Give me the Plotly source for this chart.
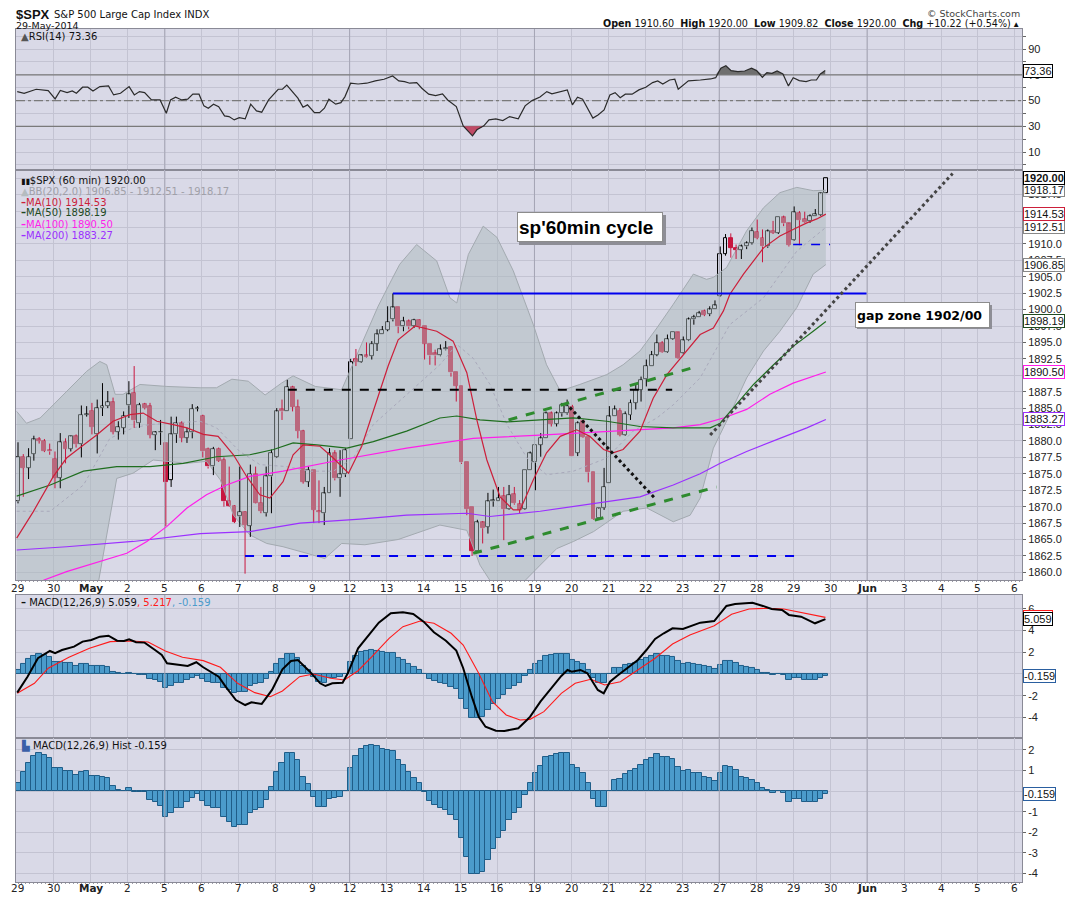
import numpy as np
import plotly.graph_objects as go
from plotly.subplots import make_subplots

# ---------------- data ----------------
# x axis: one slot per trading day, 7 hourly bars per day
day_labels = ["29", "30", "<b>May</b>", "2", "5", "6", "7", "8", "9", "12", "13", "14",
              "15", "16", "19", "20", "21", "22", "23", "27", "28", "29", "30",
              "<b>Jun</b>", "3", "4", "5", "6"]
week_start_days = [4, 9, 14, 19, 23]

# hourly candles, Apr 29 .. May 29 (one row per day)
opens = [
    1870.8, 1877.6, 1875.9, 1878.0, 1880.2, 1880.0, 1878.6,
    1877.3, 1874.4, 1879.8, 1878.8, 1880.7, 1879.5, 1884.0,
    1884.6, 1881.0, 1885.0, 1885.3, 1885.9, 1881.4, 1882.0,
    1885.4, 1887.3, 1882.7, 1885.6, 1885.3, 1880.9, 1881.3,
    1879.7, 1874.1, 1881.0, 1882.7, 1880.5, 1881.3, 1884.9,
    1883.8, 1878.8, 1876.1, 1878.8, 1877.1, 1870.9, 1870.1,
    1868.5, 1869.2, 1867.1, 1875.0, 1870.6, 1869.0, 1874.6,
    1877.5, 1884.8, 1884.5, 1888.2, 1885.2, 1881.5, 1873.8,
    1875.6, 1869.3, 1869.0, 1872.0, 1878.1, 1874.3, 1874.9,
    1880.2, 1892.4, 1892.0, 1893.0, 1892.9, 1894.8, 1896.2,
    1896.9, 1898.5, 1900.3, 1897.4, 1898.2, 1897.5, 1898.4,
    1897.4, 1894.8, 1893.3, 1893.0, 1893.9, 1894.3, 1890.4,
    1888.4, 1876.7, 1869.9, 1863.2, 1867.6, 1866.9, 1870.8,
    1870.9, 1871.6, 1869.6, 1871.9, 1870.4, 1869.6, 1875.6,
    1876.7, 1879.4, 1880.4, 1884.2, 1882.6, 1884.2, 1884.2,
    1885.2, 1878.2, 1883.0, 1880.6, 1875.2, 1868.2, 1869.8,
    1873.5, 1883.7, 1884.6, 1880.9, 1883.95, 1885.8, 1887.8,
    1889.4, 1891.4, 1893.1, 1894.9, 1893.5, 1895.5, 1896.5,
    1893.4, 1895.3, 1898.5, 1898.8, 1899.8, 1899.3, 1900.0,
    1902.1, 1908.5, 1910.9, 1909.4, 1909.1, 1909.6, 1910.1,
    1911.8, 1910.9, 1909.6, 1912.0, 1911.7, 1914.0, 1913.1,
    1910.6, 1914.7, 1913.8, 1913.4, 1914.2, 1914.4, 1917.7,
]
highs = [
    1879.8, 1878.0, 1878.9, 1880.8, 1880.6, 1880.3, 1879.6,
    1878.4, 1881.2, 1880.4, 1880.8, 1881.0, 1885.4, 1885.3,
    1885.8, 1886.3, 1888.8, 1887.6, 1886.6, 1883.0, 1884.5,
    1889.1, 1891.4, 1885.8, 1885.8, 1885.8, 1881.5, 1883.2,
    1879.7, 1883.7, 1883.7, 1883.0, 1882.0, 1885.6, 1885.3,
    1884.0, 1879.0, 1879.1, 1879.0, 1877.5, 1876.1, 1870.2,
    1876.1, 1869.3, 1876.4, 1876.1, 1873.0, 1876.1, 1878.7,
    1885.0, 1886.3, 1889.3, 1888.4, 1886.3, 1881.7, 1876.1,
    1875.6, 1874.0, 1873.0, 1878.9, 1878.6, 1878.6, 1878.9,
    1892.5, 1894.0, 1893.2, 1895.0, 1895.2, 1897.0, 1897.5,
    1900.5, 1902.45, 1900.3, 1898.9, 1898.5, 1898.6, 1898.5,
    1897.4, 1894.8, 1893.9, 1894.7, 1895.2, 1894.4, 1890.4,
    1888.4, 1876.7, 1869.9, 1868.0, 1867.8, 1872.1, 1872.6,
    1873.0, 1873.0, 1873.3, 1873.0, 1871.0, 1875.6, 1878.4,
    1879.3, 1881.2, 1884.5, 1884.5, 1884.5, 1885.8, 1886.3,
    1885.5, 1883.0, 1883.2, 1880.6, 1875.2, 1869.8, 1875.9,
    1885.3, 1885.4, 1885.0, 1884.5, 1886.3, 1888.8, 1889.8,
    1892.4, 1893.7, 1896.2, 1895.2, 1896.2, 1896.5, 1896.6,
    1895.9, 1898.8, 1899.2, 1899.8, 1900.0, 1900.5, 1901.4,
    1909.6, 1911.5, 1911.6, 1909.9, 1909.9, 1910.4, 1912.5,
    1913.7, 1912.2, 1912.2, 1913.5, 1914.0, 1914.3, 1913.2,
    1915.7, 1915.0, 1914.9, 1914.5, 1915.3, 1917.8, 1920.0,
]
lows = [
    1870.5, 1871.5, 1874.2, 1877.0, 1879.6, 1878.3, 1877.9,
    1872.8, 1872.8, 1876.6, 1878.4, 1879.0, 1877.5, 1883.7,
    1881.0, 1878.1, 1883.8, 1885.0, 1881.0, 1880.2, 1881.0,
    1883.5, 1882.0, 1882.0, 1884.8, 1880.4, 1878.6, 1879.4,
    1867.0, 1873.0, 1879.7, 1879.8, 1879.7, 1880.4, 1884.5,
    1877.5, 1875.8, 1874.8, 1876.8, 1870.0, 1870.0, 1867.5,
    1866.9, 1859.8, 1865.4, 1870.5, 1869.0, 1868.5, 1869.0,
    1877.4, 1883.2, 1884.5, 1884.5, 1880.4, 1873.5, 1873.0,
    1867.5, 1867.5, 1867.2, 1872.0, 1874.0, 1871.5, 1874.5,
    1880.2, 1891.4, 1891.9, 1892.7, 1892.4, 1893.7, 1896.2,
    1896.7, 1898.2, 1896.4, 1896.7, 1897.0, 1897.2, 1897.0,
    1892.4, 1891.6, 1891.5, 1892.9, 1893.8, 1889.8, 1886.0,
    1876.5, 1868.7, 1862.5, 1863.0, 1864.4, 1865.9, 1870.0,
    1870.9, 1864.9, 1869.5, 1870.3, 1869.0, 1869.5, 1875.6,
    1872.5, 1877.6, 1880.4, 1882.2, 1882.2, 1883.7, 1884.0,
    1877.7, 1877.7, 1880.5, 1873.7, 1868.0, 1868.1, 1869.5,
    1873.5, 1883.7, 1880.7, 1880.8, 1883.2, 1884.8, 1886.0,
    1888.3, 1891.4, 1892.9, 1893.4, 1893.4, 1895.4, 1892.5,
    1893.3, 1895.2, 1897.7, 1898.8, 1899.0, 1899.0, 1900.0,
    1902.0, 1908.2, 1907.9, 1907.7, 1907.7, 1909.2, 1909.9,
    1910.7, 1907.2, 1909.4, 1911.5, 1911.5, 1912.7, 1909.6,
    1910.5, 1909.8, 1913.2, 1913.2, 1914.2, 1914.3, 1917.7,
]
closes = [
    1877.6, 1875.9, 1877.6, 1880.2, 1880.0, 1878.5, 1878.4,
    1874.4, 1879.8, 1878.8, 1880.7, 1879.5, 1884.0, 1884.1,
    1882.1, 1885.0, 1885.3, 1885.9, 1881.4, 1882.1, 1883.8,
    1887.1, 1883.1, 1885.5, 1885.0, 1880.9, 1881.3, 1881.4,
    1873.7, 1881.0, 1882.7, 1880.5, 1881.3, 1884.9, 1885.0,
    1878.4, 1876.1, 1878.8, 1877.0, 1870.8, 1870.1, 1867.7,
    1869.2, 1867.2, 1875.0, 1870.6, 1869.3, 1874.6, 1878.2,
    1884.5, 1884.5, 1888.2, 1885.2, 1881.5, 1873.8, 1875.6,
    1869.5, 1869.2, 1872.0, 1878.1, 1874.3, 1874.9, 1878.6,
    1892.0, 1892.0, 1893.0, 1892.8, 1894.8, 1896.2, 1896.9,
    1898.1, 1900.3, 1897.4, 1898.2, 1897.4, 1898.4, 1897.4,
    1894.8, 1893.0, 1893.0, 1893.9, 1894.2, 1890.4, 1888.4,
    1876.7, 1869.6, 1863.3, 1867.6, 1866.7, 1870.8, 1871.0,
    1871.3, 1869.6, 1871.8, 1870.5, 1869.5, 1875.6, 1878.1,
    1879.3, 1880.4, 1884.2, 1882.6, 1884.2, 1885.4, 1885.3,
    1877.7, 1882.7, 1880.6, 1875.2, 1868.1, 1869.7, 1873.0,
    1883.7, 1884.8, 1880.9, 1884.1, 1885.8, 1887.8, 1889.3,
    1891.4, 1893.1, 1894.9, 1893.5, 1895.5, 1896.5, 1892.6,
    1895.3, 1898.5, 1898.8, 1899.4, 1899.2, 1900.0, 1900.6,
    1908.5, 1910.9, 1909.4, 1909.1, 1909.6, 1910.1, 1912.0,
    1910.9, 1909.6, 1911.9, 1911.7, 1914.0, 1913.1, 1909.8,
    1914.8, 1913.6, 1913.3, 1914.2, 1914.5, 1917.7, 1920.0,
]

# MACD histogram, one value per bar
macd_hist = [
    0.38, 0.91, 1.35, 1.68, 1.84, 1.76, 1.59,
    1.11, 1.11, 0.98, 0.98, 0.78, 0.91, 0.95,
    0.75, 0.75, 0.70, 0.65, 0.22, 0.05, 0.0,
    0.13, -0.03, -0.06, -0.06, -0.43, -0.51, -0.72,
    -1.28, -1.08, -0.84, -0.80, -0.51, -0.35, -0.14,
    -0.47, -0.72, -0.80, -0.84, -1.28, -1.49, -1.73,
    -1.65, -1.65, -1.08, -0.92, -0.84, -0.43, 0.18,
    0.90, 1.35, 1.84, 1.84, 1.48, 0.70, 0.33,
    -0.30, -0.76, -0.79, -0.40, -0.35, -0.27, 0.02,
    1.11, 1.68, 2.03, 2.16, 2.24, 2.16, 2.03,
    1.97, 1.92, 1.51, 1.27, 0.90, 0.65, 0.38,
    -0.03, -0.47, -0.68, -0.84, -0.92, -1.16, -1.40,
    -2.30, -3.19, -4.03, -4.03, -3.92, -3.35, -2.79,
    -2.30, -1.93, -1.40, -1.08, -0.84, -0.19, 0.41,
    0.89, 1.19, 1.64, 1.72, 1.80, 1.84, 1.84,
    1.27, 1.11, 0.89, 0.38, -0.40, -0.79, -0.79,
    0.0, 0.54, 0.57, 0.83, 0.95, 1.06, 1.27,
    1.51, 1.62, 1.80, 1.64, 1.64, 1.54, 1.16,
    0.95, 1.00, 0.89, 0.86, 0.70, 0.62, 0.49,
    0.86, 1.22, 1.16, 1.00, 0.70, 0.62, 0.51,
    0.41, 0.13, 0.05, -0.11, 0.0, -0.11, -0.51,
    -0.40, -0.40, -0.55, -0.55, -0.55, -0.40, -0.16,
]

# indicator lines, sampled (x in bar units)
ma10_x = [-0.25, 2.9, 6.7, 9.2, 12.4, 14.9, 18.0, 21.2, 23.7, 26.3, 29.4, 32.0, 35.1, 37.9,
          40.8, 43.3, 45.8, 47.7, 50.2, 52.1, 54.0, 57.2, 59.7, 62.6, 65.1, 67.6, 70.1, 72.0,
          75.2, 79.3, 82.4, 85.0, 86.9, 88.8, 91.3, 93.8, 95.1, 97.6, 100.1, 102.7, 105.8,
          108.3, 110.9, 112.7, 114.6, 117.8, 120.3, 122.9, 126.6, 129.2, 131.7, 133.6, 134.8,
          137.4, 141.2, 144.3, 146.8, 149.4, 151.3, 153.0]
ma10_y = [1865.2, 1869.25, 1874.6, 1877.4, 1879.4, 1880.9, 1883.0, 1884.0, 1884.25, 1883.0,
          1882.5, 1882.0, 1881.0, 1880.7, 1877.9, 1874.6, 1871.8, 1871.3, 1873.8, 1877.9,
          1879.4, 1879.2, 1877.4, 1875.1, 1879.2, 1885.3, 1891.4, 1895.4, 1897.5, 1896.7,
          1895.2, 1890.4, 1883.2, 1877.1, 1871.5, 1869.5, 1869.5, 1874.1, 1878.2, 1880.7,
          1881.7, 1880.7, 1878.7, 1878.2, 1878.7, 1881.5, 1886.5, 1890.1, 1893.7, 1896.2,
          1897.2, 1899.8, 1902.3, 1905.4, 1909.4, 1911.2, 1912.2, 1913.2, 1913.8, 1914.53]

ma50_x = [-0.25, 6.1, 12.4, 18.7, 25.0, 31.3, 37.6, 43.9, 48.4, 52.1, 56.6, 62.3, 67.3, 73.6,
          79.9, 83.1, 87.5, 92.6, 98.9, 105.2, 111.5, 117.8, 124.1, 131.1, 133.0, 135.5,
          139.3, 143.1, 146.8, 150.6, 153.0]
ma50_y = [1871.6, 1873.3, 1875.4, 1876.1, 1876.1, 1876.6, 1877.6, 1877.9, 1878.7, 1879.7,
          1879.4, 1878.9, 1879.9, 1881.5, 1883.5, 1883.8, 1883.2, 1882.9, 1883.2, 1883.5,
          1883.0, 1882.2, 1882.0, 1882.0, 1882.7, 1885.0, 1888.6, 1891.6, 1894.4, 1896.7,
          1898.19]

ma100_x = [-0.25, 4.8, 9.2, 15.5, 20.6, 24.4, 28.2, 32.0, 35.7, 39.5, 43.9, 50.2, 56.6, 61.0,
           73.6, 86.2, 98.9, 111.5, 124.1, 129.2, 133.6, 138.0, 142.4, 146.8, 150.6, 153.0]
ma100_y = [1857.5, 1858.8, 1860.1, 1861.6, 1862.9, 1864.7, 1867.0, 1869.8, 1871.8, 1873.3,
           1874.6, 1875.4, 1876.4, 1877.1, 1878.9, 1880.4, 1880.9, 1881.5, 1882.0, 1882.5,
           1883.5, 1884.8, 1887.1, 1888.8, 1889.8, 1890.5]

ma200_x = [-0.25, 9.2, 21.8, 34.5, 43.9, 53.4, 64.8, 73.6, 85.0, 89.4, 98.9, 111.5, 117.8,
           124.1, 129.2, 133.0, 138.0, 144.3, 149.4, 153.0]
ma200_y = [1863.4, 1863.9, 1864.7, 1865.9, 1866.2, 1867.5, 1868.1, 1868.7, 1869.0, 1868.5,
           1869.3, 1870.8, 1871.5, 1873.3, 1875.0, 1876.6, 1878.4, 1880.4, 1882.0, 1883.27]

bb_up_x = [-0.25, 1.6, 4.2, 9.2, 13.0, 15.5, 16.8, 18.4, 19.9, 23.1, 28.2, 34.5, 37.6, 40.5,
           43.6, 46.8, 49.9, 52.1, 56.3, 61.3, 63.8, 65.7, 68.2, 70.8, 72.3, 75.5, 79.3, 81.8,
           83.1, 85.3, 88.1, 90.7, 93.8, 97.6, 100.1, 102.7, 106.4, 111.5, 114.6, 117.8,
           121.0, 124.1, 127.9, 130.4, 131.7, 134.2, 138.0, 141.2, 144.3, 147.5, 150.6, 153.0]
bb_up_y = [1884.5, 1882.7, 1883.5, 1887.6, 1890.6, 1892.1, 1891.6, 1887.1, 1887.1, 1888.6,
           1888.3, 1888.1, 1888.1, 1889.4, 1889.1, 1887.0, 1888.8, 1889.9, 1888.3, 1887.8,
           1892.4, 1895.9, 1900.5, 1904.6, 1906.9, 1909.9, 1907.4, 1901.8, 1901.0, 1908.4,
           1912.7, 1911.0, 1905.9, 1897.7, 1891.6, 1887.6, 1888.6, 1890.1, 1891.6, 1893.7,
           1897.2, 1900.8, 1905.4, 1904.6, 1904.9, 1906.4, 1912.0, 1915.5, 1917.8, 1918.6,
           1918.1, 1918.17]

bb_lo_x = [-0.25, 14.9, 18.7, 21.8, 25.6, 28.2, 32.0, 35.7, 38.3, 40.8, 43.9, 47.1, 50.2,
           54.7, 58.1, 61.3, 65.7, 72.0, 79.9, 85.0, 87.5, 90.0, 95.1, 98.9, 102.0, 105.2,
           109.0, 114.6, 119.1, 124.1, 127.3, 129.2, 131.7, 134.8, 138.0, 141.2, 144.3, 147.5,
           150.6, 153.0]
bb_lo_y = [1855.0, 1857.0, 1874.3, 1875.1, 1877.1, 1876.9, 1876.6, 1876.9, 1874.1, 1868.7,
           1865.7, 1864.4, 1863.9, 1862.9, 1862.1, 1864.4, 1864.2, 1865.0, 1867.2, 1866.4,
           1861.1, 1858.0, 1858.0, 1861.1, 1863.6, 1864.7, 1866.2, 1869.3, 1869.8, 1867.7,
           1868.7, 1871.3, 1878.9, 1884.0, 1889.6, 1893.7, 1896.7, 1900.3, 1905.4, 1906.85]

bb_mid_x = [-0.25, 6.1, 12.4, 17.4, 21.8, 25.0, 34.5, 37.6, 42.0, 45.8, 50.9, 55.3, 59.7,
            63.5, 67.3, 73.6, 79.9, 83.1, 86.2, 89.4, 92.6, 96.4, 100.1, 105.2, 111.5, 116.5,
            121.0, 124.1, 129.2, 134.8, 141.2, 147.5, 153.0]
bb_mid_y = [1869.3, 1869.3, 1873.3, 1880.4, 1882.0, 1882.5, 1883.0, 1882.0, 1878.4, 1876.4,
            1876.1, 1875.4, 1875.4, 1877.4, 1882.5, 1887.1, 1891.6, 1894.7, 1892.6, 1888.6,
            1882.5, 1877.4, 1874.85, 1875.4, 1877.4, 1881.5, 1883.5, 1885.5, 1889.6, 1897.7,
            1901.8, 1908.9, 1912.51]

rsi_x = [-0.15, 1.16, 3.45, 5.72, 7.03, 8.01, 9.3, 10.28, 11.06, 12.23, 13.22, 14.2, 15.51,
         17.14, 18.11, 19.41, 21.04, 22.03, 23.01, 23.98, 25.28, 26.91, 28.09, 28.88, 29.85,
         31.02, 32.14, 33.11, 34.28, 35.21, 36.04, 37.03, 38.01, 39.11, 39.96, 40.95, 41.91,
         43.03, 44.07, 45.17, 46.16, 47.46, 49.28, 50.08, 50.91, 53.01, 53.98, 54.83, 56.14,
         57.12, 58.03, 58.88, 60.17, 61.16, 61.93, 62.99, 64.41, 66.04, 67.67, 69.32, 70.95,
         72.12, 73.22, 74.2, 75.51, 76.48, 77.78, 79.09, 80.4, 81.38, 83.01, 84.32, 86.08,
         86.91, 88.22, 89.2, 90.51, 91.82, 93.11, 94.75, 96.04, 97.35, 98.86, 100.15, 101.12,
         102.75, 104.03, 105.0, 105.97, 106.93, 108.88, 109.85, 111.0, 112.1, 113.09, 114.05,
         115.02, 116.31, 117.59, 118.9, 120.19, 121.16, 122.12, 123.41, 124.39, 125.04,
         126.97, 129.24, 131.17, 132.14, 133.11, 134.07, 135.06, 136.34, 137.63, 138.92,
         139.89, 140.98, 141.84, 142.8, 143.77, 144.87, 145.91, 146.82, 147.97, 149.26,
         150.23, 151.21, 151.97, 152.88]
rsi_y = [57.0, 55.7, 58.8, 57.8, 51.3, 57.8, 56.2, 57.5, 55.7, 60.4, 60.4, 57.5, 60.9, 61.4,
         54.4, 55.7, 60.9, 54.4, 57.0, 56.2, 50.5, 50.5, 40.2, 50.5, 52.6, 50.5, 51.1, 55.0,
         55.0, 45.9, 44.1, 47.2, 45.3, 38.1, 37.6, 35.0, 36.8, 35.8, 47.2, 42.0, 41.0, 50.5,
         58.8, 58.8, 62.1, 51.9, 44.9, 46.7, 40.7, 40.7, 44.1, 51.1, 47.2, 48.4, 53.1, 63.5,
         62.9, 63.5, 65.3, 66.6, 69.1, 65.3, 64.7, 63.5, 64.0, 59.6, 55.0, 53.9, 55.2, 50.5,
         45.3, 30.4, 22.6, 27.3, 30.4, 35.0, 35.8, 34.5, 37.6, 35.8, 45.9, 50.0, 52.8, 57.0,
         55.2, 57.0, 58.3, 46.7, 52.6, 51.1, 36.4, 38.9, 42.8, 54.4, 56.2, 52.3, 55.0, 55.0,
         58.3, 60.4, 64.0, 65.3, 62.9, 66.0, 66.6, 58.8, 65.3, 66.0, 66.8, 67.8, 75.1, 77.1,
         73.3, 72.5, 73.0, 75.1, 73.3, 68.1, 71.7, 71.2, 73.0, 70.7, 61.4, 67.8, 65.5, 64.7,
         66.0, 66.0, 70.7, 73.36]

macd_x = [-0.15, 1.8, 3.77, 6.04, 7.03, 8.33, 10.61, 12.23, 13.88, 15.51, 17.14, 18.77, 20.08,
          21.04, 22.35, 23.98, 25.95, 27.23, 28.22, 29.85, 32.14, 33.77, 35.08, 38.01, 39.32,
          41.27, 43.03, 44.2, 46.16, 48.11, 50.08, 51.7, 53.01, 55.28, 57.23, 58.22, 59.53,
          61.48, 62.46, 64.41, 66.04, 68.33, 70.61, 72.9, 74.85, 76.82, 78.77, 81.04, 83.01,
          84.32, 85.95, 87.25, 88.54, 90.51, 92.14, 94.75, 96.38, 97.0, 98.94, 100.93, 102.9,
          104.07, 104.87, 106.52, 107.84, 108.83, 109.81, 110.93, 112.12, 113.43, 115.4,
          117.39, 119.02, 120.66, 122.31, 123.96, 125.93, 129.22, 131.86, 132.84, 134.17,
          135.81, 139.11, 141.08, 142.73, 144.7, 146.02, 148.31, 150.95, 152.92]
macd_y = [-1.72, -0.25, 1.45, 2.12, 1.91, 2.21, 2.52, 2.98, 3.13, 3.44, 3.53, 3.07, 3.04, 3.2,
          2.92, 2.89, 2.21, 1.75, 0.98, 0.89, 0.74, 1.08, 0.62, -0.25, -1.17, -2.4, -2.86,
          -2.61, -2.76, -1.47, 0.43, 1.2, 1.29, 0.21, -0.86, -1.11, -0.86, -0.8, 0.06, 2.37,
          3.38, 4.73, 5.59, 5.69, 5.53, 4.82, 3.84, 3.07, 2.15, 0.53, -2.09, -3.94, -4.86,
          -5.23, -5.25, -5.0, -4.24, -3.93, -2.55, -1.32, -0.18, 0.37, 0.21, 0.37, 0.06, -0.71,
          -1.47, -1.78, -0.71, -0.18, 0.53, 1.29, 2.21, 3.23, 3.75, 4.21, 4.15, 4.73, 4.88,
          5.44, 6.27, 6.45, 6.57, 6.27, 5.99, 5.9, 5.44, 5.28, 4.67, 5.059]

signal_x = [-0.15, 3.11, 5.72, 9.64, 13.54, 17.46, 21.38, 24.64, 27.9, 31.16, 35.08, 38.33,
            41.59, 44.85, 47.78, 50.08, 53.33, 55.95, 59.2, 61.82, 64.41, 67.03, 70.28, 72.9,
            76.16, 78.77, 82.03, 84.32, 87.25, 89.85, 92.46, 95.08, 96.97, 99.6, 102.9, 105.53,
            108.48, 111.12, 114.09, 117.39, 120.66, 123.96, 127.25, 131.86, 135.15, 138.45,
            141.74, 145.02, 148.31, 152.92]
signal_y = [-1.78, -0.86, 0.53, 1.54, 2.37, 2.98, 3.04, 2.95, 2.12, 1.54, 1.23, 0.62, -0.86,
            -1.72, -2.09, -1.57, -0.25, 0.0, -0.4, -0.55, 0.3, 1.59, 3.29, 4.36, 4.88, 4.67,
            3.75, 2.67, 0.06, -2.55, -3.78, -4.24, -4.18, -3.47, -1.78, -0.86, -0.49, -1.01,
            -0.71, 0.37, 1.45, 2.76, 3.59, 4.45, 5.5, 5.99, 6.05, 5.99, 5.69, 5.217]

# hand-drawn lines on the price panel: (x0, y0, x1, y1, color, width, dash)
drawn_lines = [
    (71.0, 1902.45, 160.7, 1902.45, "#0000ee", 2, "solid"),
    (51.1, 1887.8, 123.9, 1887.8, "#000000", 2, "dash"),
    (43.0, 1862.5, 148.1, 1862.5, "#0000ee", 2, "dash"),
    (92.9, 1883.2, 127.6, 1891.1, "#2e8b2e", 3, "dash"),
    (86.2, 1862.9, 132.3, 1873.0, "#2e8b2e", 3, "dash"),
    (104.5, 1885.1, 120.6, 1871.3, "#111111", 3, "dot"),
    (131.1, 1880.9, 177.0, 1920.7, "#444444", 3, "dot"),
    (146.8, 1909.9, 153.8, 1909.9, "#0000ee", 1.5, "dash"),
]

# ---------------- figure ----------------
# the page puts the plot 8px in from the top-left corner, so the figure is 8px smaller
W, H = 1067, 889
L, R, T, B = 16, 1022, 29, 882      # plot area in page pixels
OFF = 8


def px_x(px):
    return (px - L) / (R - L)


def px_y(py):
    return (B - py) / (B - T)


GRID = "#c3c3d2"
BG = "#d9d9e7"
FONT = "DejaVu Sans"
XR = [-0.38, 190.15]
UP_COL, DN_COL = "#000000", "#c8163f"

n = len(closes)
bar_x = np.arange(n)
day_x = [7 * d - 0.19 for d in range(len(day_labels))]
o, h, lo, c = map(np.array, (opens, highs, lows, closes))
up = c >= o

fig = make_subplots(rows=4, cols=1, shared_xaxes=True, vertical_spacing=0)
yranges = {1: [-3.7, 105.6], 2: [1858.83, 1921.22], 3: [-5.9, 7.28], 4: [-4.41, 2.57]}

# darker week lines, drawn first so they sit under every other mark
for row, (y0, y1) in yranges.items():
    wx, wy = [], []
    for d in week_start_days:
        wx += [day_x[d], day_x[d], None]
        wy += [y0, y1, None]
    fig.add_trace(go.Scatter(x=wx, y=wy, mode="lines", line=dict(color="#a4a4b4", width=1),
                             hoverinfo="skip"), row=row, col=1)

# RSI panel
for lvl, dash in [(70, "solid"), (30, "solid"), (50, "dashdot")]:
    fig.add_trace(go.Scatter(x=XR, y=[lvl, lvl], mode="lines",
                             line=dict(color="#7a7a7a", width=1.2, dash=dash),
                             hoverinfo="skip"), row=1, col=1)
rsi = np.array(rsi_y)
fig.add_trace(go.Scatter(x=rsi_x, y=[70] * len(rsi_x), mode="lines", line=dict(width=0),
                         hoverinfo="skip"), row=1, col=1)
fig.add_trace(go.Scatter(x=rsi_x, y=np.maximum(rsi, 70), mode="lines", line=dict(width=0),
                         fill="tonexty", fillcolor="#6f6f6f", hoverinfo="skip"), row=1, col=1)
fig.add_trace(go.Scatter(x=rsi_x, y=[30] * len(rsi_x), mode="lines", line=dict(width=0),
                         hoverinfo="skip"), row=1, col=1)
fig.add_trace(go.Scatter(x=rsi_x, y=np.minimum(rsi, 30), mode="lines", line=dict(width=0),
                         fill="tonexty", fillcolor="#c04a66", hoverinfo="skip"), row=1, col=1)
fig.add_trace(go.Scatter(x=rsi_x, y=rsi_y, mode="lines", line=dict(color="#2b2b2b", width=1.2)),
              row=1, col=1)

# price panel: Bollinger band
fig.add_trace(go.Scatter(x=bb_up_x + bb_lo_x[::-1], y=bb_up_y + bb_lo_y[::-1], mode="lines",
                         fill="toself", fillcolor="rgba(172,186,188,0.50)", line=dict(width=0),
                         hoverinfo="skip"), row=2, col=1)
for bx, by in [(bb_up_x, bb_up_y), (bb_lo_x, bb_lo_y)]:
    fig.add_trace(go.Scatter(x=bx, y=by, mode="lines", line=dict(color="#a3aab0", width=1)),
                  row=2, col=1)
fig.add_trace(go.Scatter(x=bb_mid_x, y=bb_mid_y, mode="lines",
                         line=dict(color="#a9a9bb", width=1, dash="dot")), row=2, col=1)

# candles: wicks as line segments, bodies as floating bars
body_top = np.maximum(o, c)
body_bot = np.minimum(o, c)
for mask, col in [(up, UP_COL), (~up, DN_COL)]:
    wx, wy = [], []
    for i in np.where(mask)[0]:
        wx += [i, i, None, i, i, None]
        wy += [h[i], body_top[i], None, body_bot[i], lo[i], None]
    fig.add_trace(go.Scatter(x=wx, y=wy, mode="lines", line=dict(color=col, width=1),
                             hoverinfo="skip"), row=2, col=1)
    fig.add_trace(go.Bar(x=bar_x[mask], y=np.maximum(body_top - body_bot, 0.08)[mask],
                         base=body_bot[mask], width=0.74,
                         marker=dict(color="rgba(0,0,0,0)" if col == UP_COL else col,
                                     line=dict(color=col, width=1))), row=2, col=1)

for mx, my, col in [(ma200_x, ma200_y, "#9b30ff"), (ma100_x, ma100_y, "#ff1eea"),
                    (ma50_x, ma50_y, "#1f6e1f"), (ma10_x, ma10_y, "#cc1f3a")]:
    fig.add_trace(go.Scatter(x=mx, y=my, mode="lines", line=dict(color=col, width=1.2)),
                  row=2, col=1)

# MACD panels
for row in (3, 4):
    fig.add_trace(go.Bar(x=bar_x, y=macd_hist, width=1.0, marker=dict(
        color="#4b9bcb", line=dict(color="#1f5d88", width=1))), row=row, col=1)
fig.add_trace(go.Scatter(x=signal_x, y=signal_y, mode="lines",
                         line=dict(color="#ff1a1a", width=1.1)), row=3, col=1)
fig.add_trace(go.Scatter(x=macd_x, y=macd_y, mode="lines",
                         line=dict(color="#000000", width=2)), row=3, col=1)

# axes
xcommon = dict(range=XR, tickmode="array", tickvals=day_x, showticklabels=False,
               showgrid=True, gridcolor=GRID, gridwidth=1, zeroline=False, showline=True,
               mirror=True, linecolor="#8a8a96", ticks="")
for i in range(1, 5):
    fig.update_layout({f"xaxis{i if i > 1 else ''}": xcommon})
dotted = dict(minor=dict(tick0=0, dtick=0.75, ticks="outside", ticklen=1, tickwidth=1,
                         tickcolor="#9a9aa6", showgrid=False))
fig.update_layout(xaxis2=dotted, xaxis4=dotted)

ycommon = dict(side="right", showgrid=True, gridcolor=GRID, zeroline=False, showline=True,
               mirror=True, linecolor="#8a8a96", ticks="outside", ticklen=3, tickcolor="#666",
               tickfont=dict(family="Liberation Sans", size=11, color="#222"))
price_ticks = [1860 + 2.5 * k for k in range(25)]
fig.update_layout(
    yaxis=dict(ycommon, domain=[0.835, 1.0], range=yranges[1], tickmode="array",
               tickvals=list(range(0, 101, 10)),
               ticktext=["" if v % 20 == 0 else str(v) for v in range(0, 101, 10)]),
    yaxis2=dict(ycommon, domain=[0.354, 0.8345], range=yranges[2], tickmode="array",
                tickvals=price_ticks, ticktext=[f"{v:.1f}" for v in price_ticks]),
    yaxis3=dict(ycommon, domain=[0.1688, 0.3365], range=yranges[3], tickmode="array",
                tickvals=[-4, -2, 0, 2, 4, 6], ticktext=["-4", "-2", "0", "2", "4", "6"]),
    yaxis4=dict(ycommon, domain=[0.0, 0.1688], range=yranges[4], tickmode="array",
                tickvals=[-4, -3, -2, -1, 0, 1, 2], ticktext=["-4", "-3", "-2", "-1", "0", "1", "2"]),
)

shapes = [
    dict(type="line", xref="x2", yref="y2", x0=x0, y0=y0, x1=x1, y1=y1,
         line=dict(color=col, width=wd, dash=dash))
    for x0, y0, x1, y1, col, wd, dash in drawn_lines
]
# drop shadows behind the two note boxes
for bx0, by0, bx1, by1 in [(519, 215, 666, 245), (857, 305, 992, 329)]:
    shapes.append(dict(type="rect", xref="paper", yref="paper", x0=px_x(bx0), x1=px_x(bx1),
                       y0=px_y(by1), y1=px_y(by0), line=dict(width=0), fillcolor="#8e8e96"))
fig.update_layout(shapes=shapes)

ann = []


def text(px, py, s, size=10, color="#111", xanchor="left", family=FONT):
    ann.append(dict(xref="paper", yref="paper", x=px_x(px), y=px_y(py), text=s,
                    showarrow=False, xanchor=xanchor, yanchor="middle",
                    font=dict(family=family, size=size, color=color)))


# day labels under the price panel and under the histogram
for dx, lab in zip(day_x, day_labels):
    for py in (588, 888):
        ann.append(dict(xref="x", yref="paper", x=dx, y=px_y(py), text=lab, showarrow=False,
                        xanchor="center", yanchor="middle",
                        font=dict(family=FONT, size=10.5, color="#222")))

# header
text(14, 14, "<b>$SPX</b>", size=13, family="Liberation Sans")
text(52, 14, "S&P 500 Large Cap Index INDX", size=10)
text(14, 25.5, "29-May-2014", size=9.5)
text(1022, 13, "© StockCharts.com", size=9.5, color="#444", xanchor="right")
text(1021, 24, "<b>Open</b> 1910.60  <b>High</b> 1920.00  <b>Low</b> 1909.82  "
     "<b>Close</b> 1920.00  <b>Chg</b> +10.22 (+0.54%) ▴", size=9.6, xanchor="right")

# panel legends
text(19, 37, "<span style='color:#555'>▲</span>RSI(14) 73.36", size=10)
text(19, 180, "<span style='font-size:8px'>▮▮</span>$SPX (60 min) 1920.00", size=10)
text(19, 191, "<span style='color:#b5bcc0'>▲</span>BB(20,2.0) 1906.85 - 1912.51 - 1918.17",
     size=10, color="#a0a0a8")
text(19, 202, "<b>–</b>MA(10) 1914.53", size=10, color="#cc1f3a")
text(19, 213, "<b>–</b>MA(50) 1898.19", size=10, color="#1f4a1f")
text(19, 224, "<b>–</b>MA(100) 1890.50", size=10, color="#ff1eea")
text(19, 235, "<b>–</b>MA(200) 1883.27", size=10, color="#9b30ff")
text(19, 602, "<b>–</b> MACD(12,26,9) 5.059<span style='color:#ff1a1a'>, 5.217</span>"
     "<span style='color:#4b9bcb'>, -0.159</span>", size=10)
text(19, 745, "<span style='color:#3b5fa8'>▙</span> MACD(12,26,9) Hist -0.159", size=10)


def tag(yref, val, s, border, bold=False):
    ann.append(dict(xref="paper", yref=yref, x=1.0, y=val, xanchor="left", yanchor="middle",
                    xshift=1, text=f"<b>{s}</b>" if bold else s, showarrow=False,
                    bgcolor="white", bordercolor=border, borderwidth=1, borderpad=0,
                    font=dict(family="Liberation Sans", size=11, color="#111")))


tag("y", 73.36, "73.36", "#000")
for val, s, border, bold in [(1883.27, "1883.27", "#9b30ff", False),
                             (1890.50, "1890.50", "#ff1eea", False),
                             (1898.19, "1898.19", "#1f4a1f", False),
                             (1906.85, "1906.85", "#888", False),
                             (1912.51, "1912.51", "#888", False),
                             (1914.53, "1914.53", "#cc1f3a", False),
                             (1918.17, "1918.17", "#888", False),
                             (1920.00, "1920.00", "#000", True)]:
    tag("y2", val, s, border, bold)
tag("y3", 5.217, "5.217", "#ff1a1a")
tag("y3", 5.059, "5.059", "#000")
tag("y3", -0.159, "-0.159", "#2a5fa0")
tag("y4", -0.159, "-0.159", "#2a5fa0")

# text boxes
ann.append(dict(xref="x2", yref="y2", x=108.3, y=1912.5, text="<b>sp'60min cycle</b>",
                showarrow=False, bgcolor="white", bordercolor="#8c8c8c", borderwidth=1,
                width=142, height=26, align="left",
                font=dict(family="Liberation Sans", size=19, color="#000")))
ann.append(dict(xref="x2", yref="y2", x=171.3, y=1899.25, text="<b>gap zone 1902/00</b>",
                showarrow=False, bgcolor="white", bordercolor="#8c8c8c", borderwidth=1,
                width=131, height=22, align="left",
                font=dict(family="DejaVu Sans", size=12.5, color="#000")))

fig.update_layout(
    annotations=ann, width=W, height=H, showlegend=False, bargap=0, barmode="overlay",
    margin=dict(l=L - OFF, r=W - (R - OFF), t=T - OFF, b=H - (B - OFF)),
    paper_bgcolor="white", plot_bgcolor=BG,
)

fig.write_html("out.html")
